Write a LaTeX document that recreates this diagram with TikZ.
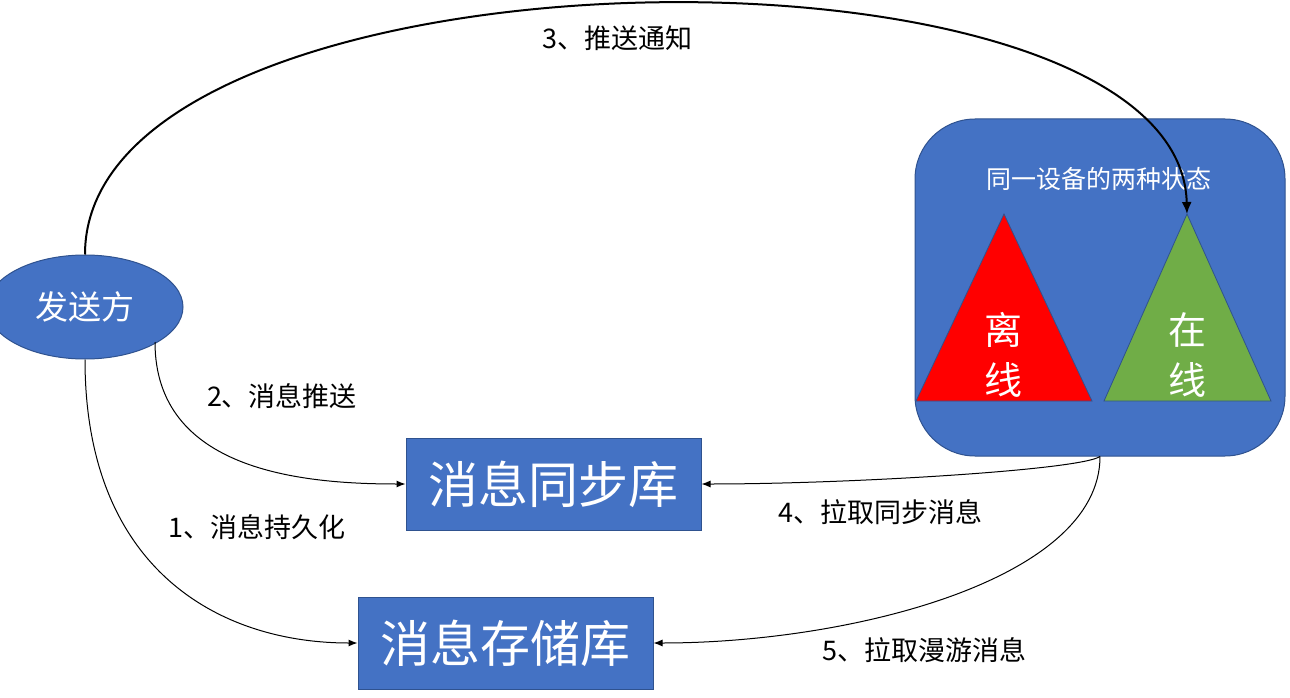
\documentclass[tikz,border=0pt]{standalone}
\usepackage{fontspec}
\newfontfamily\cjk{Noto Sans CJK SC}
\usetikzlibrary{shapes.geometric,arrows.meta}
\definecolor{boxblue}{HTML}{4472C4}
\definecolor{boxedge}{HTML}{2F528F}
\definecolor{offred}{HTML}{FF0000}
\definecolor{ongreen}{HTML}{70AD47}
\tikzset{
  x=1pt, y=-1pt,
  bluebox/.style={draw=boxedge, line width=1pt, fill=boxblue, text=white, inner sep=0pt,
    font=\cjk\fontsize{50}{56}\selectfont},
  tri/.style={draw=boxedge, line width=0.8pt},
  lbl/.style={font=\cjk\fontsize{27}{30}\selectfont, text=black, inner sep=0pt},
  conn/.style={line width=1pt, -{Latex[length=9pt,width=7pt]}},
  bigconn/.style={line width=2pt, -{Latex[length=12pt,width=10pt]}},
}
\begin{document}
\begin{tikzpicture}
\useasboundingbox (0,0) rectangle (1290,698);

% sender
\node[bluebox, ellipse, minimum width=196pt, minimum height=104pt,
  font=\cjk\fontsize{33}{38}\selectfont] (sender) at (85,307) {发送方};

% device with two states
\node[bluebox, rectangle, rounded corners=60pt, minimum width=370pt, minimum height=337pt]
  (device) at (1100,287.5) {};
\node[font=\cjk\fontsize{25}{28}\selectfont, text=white, inner sep=0pt] (devtitle) at (1099,179) {同一设备的两种状态};

\coordinate (offtop) at (1004,214);
\coordinate (ontop) at (1187,214);
\fill[offred] (offtop) -- (1092,401) -- (916,401) -- cycle;
\draw[tri] (offtop) -- (1092,401) -- (916,401) -- cycle;
\fill[ongreen] (ontop) -- (1271,401) -- (1104,401) -- cycle;
\draw[tri] (ontop) -- (1271,401) -- (1104,401) -- cycle;
\node[font=\cjk\fontsize{38}{50}\selectfont, text=white, align=center, inner sep=0pt] (offtxt) at (1003,355) {离\\线};
\node[font=\cjk\fontsize{38}{50}\selectfont, text=white, align=center, inner sep=0pt] (ontxt) at (1187,355) {在\\线};

% stores
\node[bluebox, rectangle, minimum width=295pt, minimum height=92pt] (sync) at (553.5,484) {消息同步库};
\node[bluebox, rectangle, minimum width=295pt, minimum height=92pt] (store) at (505.5,643) {消息存储库};

% connectors
\coordinate (s2) at (155,342);
\draw[bigconn] (sender.north) .. controls (85,-65) and (1180,-80) .. (ontop);
\draw[conn] (s2) .. controls (155,470) and (300,484) .. (sync.west);
\draw[conn] (sender.south) .. controls (85,570) and (220,643) .. (store.west);
\draw[conn] (device.south) .. controls (1080,470) and (850,484) .. (sync.east);
\draw[conn] (device.south) .. controls (1100,580) and (850,643) .. (store.east);

% labels
\node[lbl] (l3) at (617,38) {3、推送通知};
\node[lbl] (l2) at (282,396) {2、消息推送};
\node[lbl] (l1) at (257,527) {1、消息持久化};
\node[lbl] (l4) at (880,512) {4、拉取同步消息};
\node[lbl] (l5) at (924,650) {5、拉取漫游消息};
\end{tikzpicture}
\end{document}
